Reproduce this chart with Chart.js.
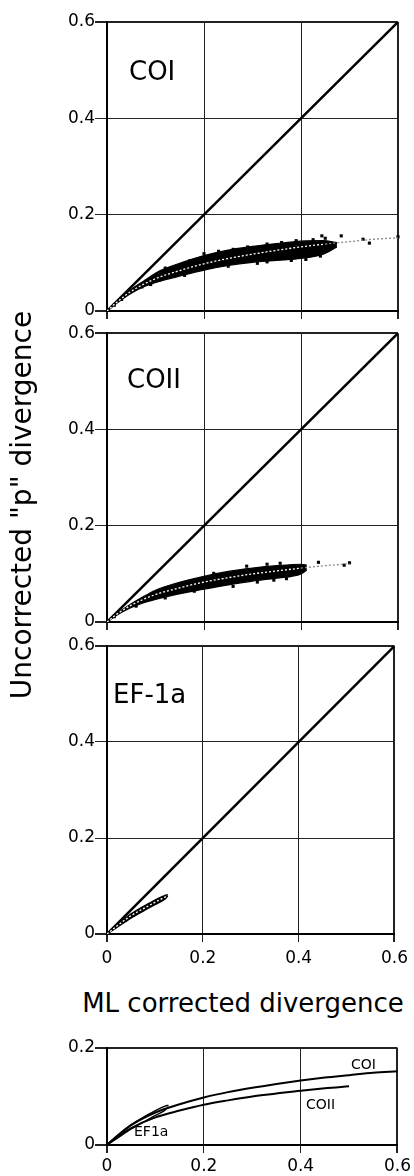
<!DOCTYPE html>
<html>
<head>
<meta charset="utf-8">
<script src="https://cdn.jsdelivr.net/npm/chart.js@4.4.1/dist/chart.umd.min.js"></script>
<style>
  html, body { margin: 0; padding: 0; background: #fff; }
  #wrap { position: relative; width: 414px; height: 1176px; overflow: hidden; font-family: "DejaVu Sans", sans-serif; color: #000; }
  canvas { position: absolute; left: 0; }
  .title { position: absolute; line-height: 1; white-space: nowrap; text-align: center; }
  #xTitle { font-size: 26px; left: 43px; width: 400px; top: 990px; }
  #yTitle { font-size: 28px; height: 28px; width: 500px; left: -227.7px; top: 491px; transform: rotate(-90deg); }
</style>
</head>
<body>
<div id="wrap">
  <canvas id="coiChart" width="414" height="323" style="top:0px"></canvas>
  <canvas id="coiiChart" width="414" height="311" style="top:323px"></canvas>
  <canvas id="efChart" width="414" height="340" style="top:634px"></canvas>
  <canvas id="fitChart" width="414" height="146" style="top:1030px"></canvas>
  <div class="title" id="xTitle">ML corrected divergence</div>
  <div class="title" id="yTitle">Uncorrected "p" divergence</div>
</div>
<script>
// tick values
const axisTicks = [0, 0.2, 0.4, 0.6];
const fitPanelYTicks = [0, 0.2];

// y = x reference line
const diagonalX = [0, 0.6];
const diagonalY = [0, 0.6];

// COI: scatter cloud (envelope + loose points) and fitted curve
const coiBandX = [0, 0.02, 0.05, 0.075, 0.11, 0.144, 0.2, 0.247, 0.3, 0.35, 0.4, 0.446, 0.474];
const coiBandUpper = [0, 0.019, 0.045, 0.062, 0.084, 0.097, 0.115, 0.126, 0.134, 0.140, 0.145, 0.146, 0.142];
const coiBandLower = [0, 0.016, 0.037, 0.050, 0.062, 0.071, 0.085, 0.094, 0.101, 0.105, 0.109, 0.118, 0.133];
const coiPointsX = [0.015, 0.03, 0.072, 0.09, 0.16, 0.2, 0.23, 0.26, 0.29, 0.25, 0.33, 0.36, 0.33, 0.39, 0.38, 0.425, 0.443, 0.45, 0.44, 0.483, 0.528, 0.541, 0.6, 0.12, 0.17, 0.31, 0.41];
const coiPointsY = [0.012, 0.024, 0.050, 0.055, 0.074, 0.119, 0.124, 0.128, 0.133, 0.093, 0.139, 0.142, 0.102, 0.146, 0.105, 0.148, 0.156, 0.151, 0.114, 0.156, 0.149, 0.141, 0.154, 0.089, 0.104, 0.099, 0.107];
const coiFitX = [0, 0.02, 0.05, 0.1, 0.15, 0.2, 0.25, 0.3, 0.35, 0.4, 0.45, 0.5, 0.55, 0.6];
const coiFitY = [0, 0.018, 0.041, 0.067, 0.084, 0.098, 0.109, 0.118, 0.126, 0.133, 0.139, 0.144, 0.149, 0.152];

// COII
const coiiBandX = [0, 0.02, 0.05, 0.07, 0.1, 0.137, 0.2, 0.25, 0.3, 0.35, 0.4, 0.412];
const coiiBandUpper = [0, 0.017, 0.038, 0.050, 0.066, 0.079, 0.095, 0.105, 0.112, 0.117, 0.120, 0.118];
const coiiBandLower = [0, 0.014, 0.030, 0.038, 0.047, 0.056, 0.068, 0.077, 0.085, 0.091, 0.100, 0.108];
const coiiPointsX = [0.015, 0.06, 0.12, 0.18, 0.26, 0.288, 0.33, 0.357, 0.344, 0.37, 0.436, 0.489, 0.5, 0.22, 0.31];
const coiiPointsY = [0.011, 0.033, 0.050, 0.064, 0.074, 0.116, 0.120, 0.122, 0.087, 0.090, 0.124, 0.118, 0.123, 0.101, 0.083];
const coiiFitX = [0, 0.02, 0.05, 0.1, 0.15, 0.2, 0.25, 0.3, 0.35, 0.4, 0.45, 0.5];
const coiiFitY = [0, 0.016, 0.035, 0.057, 0.071, 0.083, 0.092, 0.100, 0.106, 0.112, 0.117, 0.121];

// EF-1a
const efBandX = [0, 0.02, 0.05, 0.08, 0.1, 0.12, 0.127];
const efBandUpper = [0, 0.018, 0.042, 0.060, 0.071, 0.080, 0.082];
const efBandLower = [0, 0.013, 0.033, 0.050, 0.061, 0.072, 0.079];
const efPointsX = [];
const efPointsY = [];
const efFitX = [0, 0.02, 0.05, 0.08, 0.1, 0.127];
const efFitY = [0, 0.016, 0.038, 0.055, 0.066, 0.080];

const FONT = "DejaVu Sans";
Chart.defaults.font.family = FONT;
Chart.defaults.color = "#000";

const pts = (xs, ys) => xs.map((x, i) => ({ x, y: ys[i] }));

// panel names drawn straight on the canvas
const panelText = {
    id: "panelText",
    afterDraw(chart, args, opts) {
        const ctx = chart.ctx;
        ctx.save();
        ctx.fillStyle = "#000";
        ctx.textBaseline = "alphabetic";
        (opts.items || []).forEach((it) => {
            ctx.font = it.size + "px \"" + FONT + "\"";
            ctx.fillText(it.text, it.left, it.baseline);
        });
        ctx.restore();
    }
};

const edgeWidth = (c) => (c.tick && (c.tick.value === c.scale.min || c.tick.value === c.scale.max)) ? 2 : 1;

function makeScales(yTicks, yMax, showXLabels, xHeight, xPad) {
    return {
        x: {
            type: "linear", min: 0, max: 0.6,
            afterBuildTicks: (s) => { s.ticks = axisTicks.map((v) => ({ value: v })); },
            afterFit: (s) => { s.height = xHeight; },
            grid: { color: "#222", lineWidth: edgeWidth, tickLength: 8 },
            border: { color: "#000", width: 2 },
            ticks: {
                display: showXLabels, padding: xPad, maxRotation: 0, autoSkip: false,
                font: { size: 17 }, callback: (v) => String(v)
            }
        },
        y: {
            type: "linear", min: 0, max: yMax,
            afterBuildTicks: (s) => { s.ticks = yTicks.map((v) => ({ value: v })); },
            afterFit: (s) => { s.width = 107; },
            grid: { color: "#222", lineWidth: edgeWidth, tickLength: 12 },
            border: { color: "#000", width: 2 },
            ticks: { padding: 0, autoSkip: false, font: { size: 17 }, callback: (v) => String(v) }
        }
    };
}

function cloudSets(bx, up, lo, px, py, fx, fy, fitEnd) {
    return [
        { data: pts(bx, lo), borderColor: "#000", borderWidth: 1.2, pointRadius: 0, fill: false,
          cubicInterpolationMode: "monotone", order: 4 },
        { data: pts(bx, up), borderColor: "#000", borderWidth: 1.2, pointRadius: 0, fill: "-1",
          backgroundColor: "#000", cubicInterpolationMode: "monotone", order: 3 },
        { data: pts(px, py), showLine: false, pointStyle: "rect", pointRadius: 2.2,
          backgroundColor: "#000", borderColor: "#000", borderWidth: 0, clip: false, order: 2 },
        { data: pts(diagonalX, diagonalY), borderColor: "#000", borderWidth: 2.5, pointRadius: 0, order: 1 },
        { data: pts(fx, fy), borderColor: "#fff", borderWidth: 1.3, borderDash: [2, 2], pointRadius: 0,
          cubicInterpolationMode: "monotone", order: 0,
          segment: { borderColor: (c) => (c.p0.parsed.x >= fitEnd ? "#8a8a8a" : "#fff") } }
    ];
}

function makePanel(id, datasets, scales, padTop, labels) {
    return new Chart(document.getElementById(id), {
        type: "line",
        data: { datasets },
        options: {
            responsive: false,
            animation: false,
            events: [],
            layout: { padding: { top: padTop, right: 16, bottom: 0, left: 0 } },
            scales,
            plugins: {
                legend: { display: false },
                tooltip: { enabled: false },
                panelText: { items: labels }
            }
        },
        plugins: [panelText]
    });
}

makePanel("coiChart",
    cloudSets(coiBandX, coiBandUpper, coiBandLower, coiPointsX, coiPointsY, coiFitX, coiFitY, 0.45),
    makeScales(axisTicks, 0.6, false, 12, 0), 22,
    [{ text: "COI", left: 129, baseline: 80, size: 26 }]);

makePanel("coiiChart",
    cloudSets(coiiBandX, coiiBandUpper, coiiBandLower, coiiPointsX, coiiPointsY, coiiFitX, coiiFitY, 0.4),
    makeScales(axisTicks, 0.6, false, 12, 0), 10,
    [{ text: "COII", left: 127, baseline: 65, size: 26 }]);

makePanel("efChart",
    cloudSets(efBandX, efBandUpper, efBandLower, efPointsX, efPointsY, efFitX, efFitY, 0.2),
    makeScales(axisTicks, 0.6, true, 40, 6), 12,
    [{ text: "EF-1a", left: 113, baseline: 69, size: 26 }]);

// bottom panel: the three fitted curves together
makePanel("fitChart", [
        { data: pts(coiFitX, coiFitY), borderColor: "#000", borderWidth: 2, pointRadius: 0, cubicInterpolationMode: "monotone" },
        { data: pts(coiiFitX, coiiFitY), borderColor: "#000", borderWidth: 2, pointRadius: 0, cubicInterpolationMode: "monotone" },
        { data: pts(efBandX, efBandUpper), borderColor: "#000", borderWidth: 1.4, pointRadius: 0, cubicInterpolationMode: "monotone" },
        { data: pts(efBandX, efBandLower), borderColor: "#000", borderWidth: 1.4, pointRadius: 0, cubicInterpolationMode: "monotone" }
    ],
    makeScales(fitPanelYTicks, 0.2, true, 31, 3), 18,
    [
        { text: "COI", left: 351, baseline: 39, size: 14 },
        { text: "COII", left: 306, baseline: 79, size: 14 },
        { text: "EF1a", left: 134, baseline: 105.5, size: 14 }
    ]);
</script>
</body>
</html>
